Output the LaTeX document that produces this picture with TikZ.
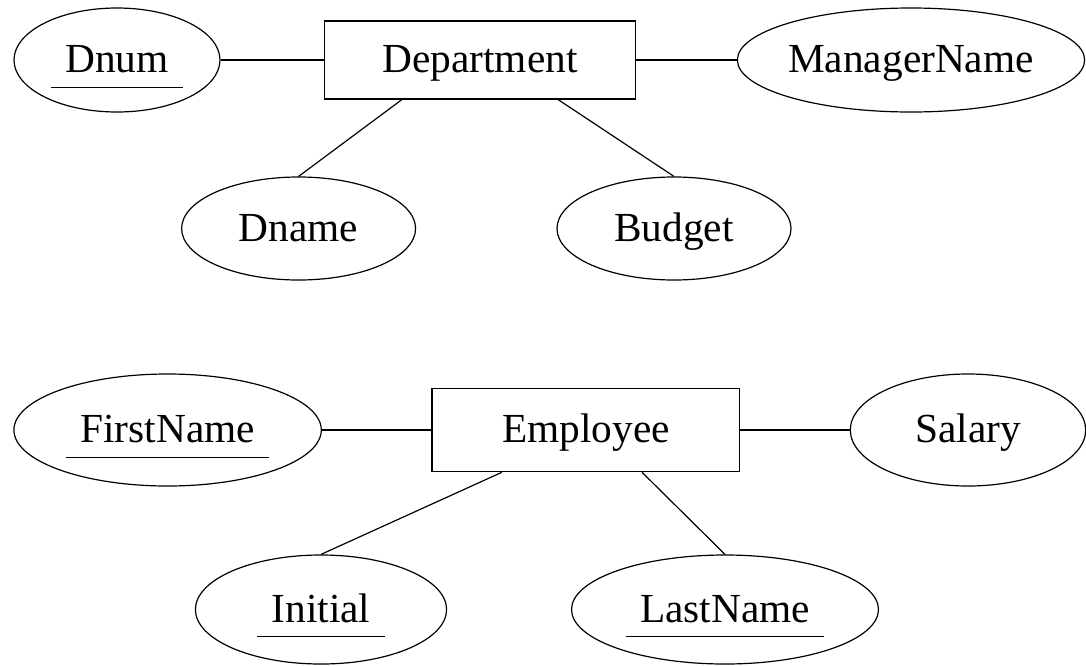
\documentclass[tikz,border=0pt]{standalone}
\usepackage{fontspec}
\setmainfont{Liberation Serif}
\usetikzlibrary{shapes.geometric,calc}

% key attribute: text with a rule drawn under it, a little wider than the word
\newcommand\keyattr[1]{%
  \setbox0\hbox{\hspace{0.35em}#1\hspace{0.35em}}%
  \rlap{\rule[-0.37em]{\wd0}{0.9pt}}\box0}

\tikzset{
  every node/.style={font=\fontsize{31pt}{37pt}\selectfont,
                     text height=20.5pt, text depth=1.5pt, inner sep=0pt},
  attr/.style 2 args={draw, ellipse, line width=0.9pt,
                      minimum width=#1*1.5pt, minimum height=#2*1.5pt},
  entity/.style 2 args={draw, rectangle, line width=0.9pt,
                        minimum width=#1*0.75pt, minimum height=#2*0.75pt},
  link/.style={line width=0.9pt},
}

\begin{document}
\begin{tikzpicture}[x=0.75pt, y=-0.75pt]
  \fill[white] (0,0) rectangle (1086,665);
  \useasboundingbox (0,0) rectangle (1086,665);

  % Department entity and its attributes
  \node[entity={311.4}{78}]     (dept)   at (480,60)      {Department};
  \node[attr={103}{52}]         (dnum)   at (117,60)      {\keyattr{Dnum}};
  \node[attr={172}{52}]         (mgr)    at (911,60)      {ManagerName};
  \node[attr={117}{51.5}]       (dname)  at (298.6,228.5) {Dname};
  \node[attr={117}{51.5}]       (budget) at (674,228.5)   {Budget};

  \draw[link] (dnum.east) -- (dept.west);
  \draw[link] (dept.east) -- (mgr.west);
  \draw[link] ($(dept.south west)!0.25!(dept.south east)$) -- (dname.north);
  \draw[link] ($(dept.south west)!0.75!(dept.south east)$) -- (budget.north);

  % Employee entity and its attributes
  \node[entity={307.7}{83.5}]   (emp)     at (585.9,430)   {Employee};
  \node[attr={153.7}{56}]       (first)   at (167.6,430)   {\keyattr{FirstName}};
  \node[attr={117.7}{56}]       (salary)  at (968,430)     {Salary};
  \node[attr={125.6}{54.5}]     (initial) at (321,609.5)   {\keyattr{Initial}};
  \node[attr={153.5}{54.5}]     (last)    at (725,609.5)   {\keyattr{LastName}};

  \draw[link] (first.east) -- (emp.west);
  \draw[link] (emp.east) -- (salary.west);
  \draw[link] ($(emp.south west)!0.2275!(emp.south east)$) -- (initial.north);
  \draw[link] ($(emp.south west)!0.682!(emp.south east)$) -- (last.north);
\end{tikzpicture}
\end{document}
